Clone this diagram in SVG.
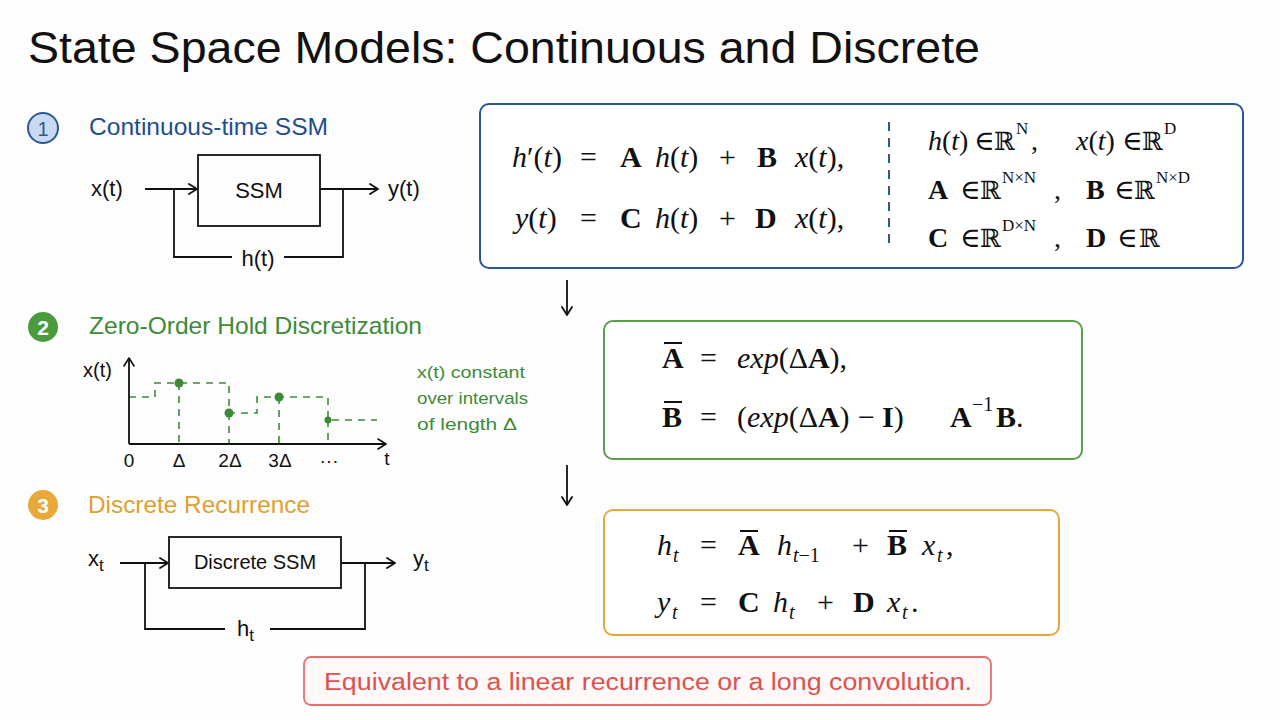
<svg xmlns="http://www.w3.org/2000/svg" width="1280" height="720" viewBox="0 0 1280 720">
<defs>
<marker id="arr" markerWidth="12" markerHeight="12" refX="10" refY="6" orient="auto" markerUnits="userSpaceOnUse">
<path d="M2,1 L10,6 L2,11" fill="none" stroke="#111" stroke-width="1.8" stroke-linecap="round" stroke-linejoin="round"/>
</marker>
<marker id="arrg" markerWidth="12" markerHeight="12" refX="10" refY="6" orient="auto" markerUnits="userSpaceOnUse">
<path d="M2,1 L10,6 L2,11" fill="none" stroke="#111" stroke-width="1.6" stroke-linecap="round" stroke-linejoin="round"/>
</marker>
</defs>
<style>
.hand{font-family:"Liberation Sans","Noto Sans",sans-serif;fill:#111}
.m{font-family:"Liberation Serif","DejaVu Serif",serif;font-size:30px;fill:#111}
.r{font-family:"Liberation Serif","DejaVu Serif",serif;font-size:28px;fill:#111}
.R{font-family:"DejaVu Serif",serif;font-size:25px}
.i{font-style:italic}
.b{font-weight:bold}
.sup{font-size:17px}
.sub{font-size:20px}
.ln{stroke:#111;stroke-width:1.8;fill:none}
.blue{fill:#1f4e8c}
.green{fill:#3d8b37}
.orange{fill:#e0a030}
.dash{stroke:#3d8b37;stroke-width:1.6;stroke-dasharray:7 6;fill:none}
.bar{stroke:#111;stroke-width:2}
</style>
<rect width="1280" height="720" fill="#fdfdfd"/>
<text class="hand" x="28" y="63" font-size="44" textLength="952" lengthAdjust="spacingAndGlyphs">State Space Models: Continuous and Discrete</text>

<!-- Section 1 -->
<g id="sec1">
<circle cx="43" cy="128" r="15" fill="#c9daf0" stroke="#2b5797" stroke-width="2"/>
<text class="hand" x="43" y="136" font-size="20" text-anchor="middle" style="fill:#2b5797">1</text>
<text class="hand blue" x="89" y="135" font-size="24" textLength="239" lengthAdjust="spacingAndGlyphs">Continuous-time SSM</text>
</g>
<g id="ssm1">
<rect x="198" y="155" width="122" height="71" fill="none" stroke="#111" stroke-width="1.8"/>
<text class="hand" x="259" y="198" font-size="22" text-anchor="middle">SSM</text>
</g>
<g id="io1">
<text class="hand" x="91" y="196" font-size="22">x(t)</text>
<text class="hand" x="388" y="196" font-size="22">y(t)</text>
<text class="hand" x="258" y="266" font-size="22" text-anchor="middle">h(t)</text>
</g>

<!-- Section 2 -->
<g id="sec2">
<circle cx="43" cy="327" r="15" fill="#4a9a3e"/>
<text class="hand" x="43" y="335" font-size="21" font-weight="bold" text-anchor="middle" style="fill:#fff">2</text>
<text class="hand green" x="89" y="334" font-size="24" textLength="333" lengthAdjust="spacingAndGlyphs">Zero-Order Hold Discretization</text>
</g>
<g id="zoh">
<text class="hand" x="83" y="377" font-size="20">x(t)</text>
<path class="dash" d="M129,397 H155 V383 H229 V413 H257 V397 H328 V420 H377"/>
<path class="dash" d="M179,383 V443 M229,413 V443 M279,397 V443 M328,420 V443"/>
<circle cx="179" cy="383" r="4.5" fill="#3d8b37"/>
<circle cx="229" cy="413" r="4.5" fill="#3d8b37"/>
<circle cx="279" cy="397" r="4.5" fill="#3d8b37"/>
<circle cx="328" cy="420" r="3.5" fill="#3d8b37"/>
<text class="hand" x="129" y="467" font-size="19" text-anchor="middle">0</text>
<text class="hand" x="179" y="467" font-size="19" text-anchor="middle">Δ</text>
<text class="hand" x="230" y="467" font-size="19" text-anchor="middle">2Δ</text>
<text class="hand" x="280" y="467" font-size="19" text-anchor="middle">3Δ</text>
<text class="hand" x="329" y="467" font-size="19" text-anchor="middle">···</text>
<text class="hand" x="387" y="465" font-size="19" text-anchor="middle">t</text>
<text class="hand green" x="417" y="378" font-size="17" textLength="108" lengthAdjust="spacingAndGlyphs">x(t) constant</text>
<text class="hand green" x="417" y="404" font-size="17" textLength="111" lengthAdjust="spacingAndGlyphs">over intervals</text>
<text class="hand green" x="417" y="430" font-size="17" textLength="100" lengthAdjust="spacingAndGlyphs">of length Δ</text>
</g>

<!-- Section 3 -->
<g id="sec3">
<circle cx="43" cy="505" r="15" fill="#e8a93a"/>
<text class="hand" x="43" y="513" font-size="21" font-weight="bold" text-anchor="middle" style="fill:#fff">3</text>
<text class="hand orange" x="88" y="513" font-size="24" textLength="222" lengthAdjust="spacingAndGlyphs">Discrete Recurrence</text>
</g>
<g id="ssm3">
<rect x="169" y="537" width="172" height="51" fill="none" stroke="#111" stroke-width="1.8"/>
<text class="hand" x="255" y="569" font-size="20" text-anchor="middle">Discrete SSM</text>
</g>
<g id="io3">
<text class="hand" x="88" y="566" font-size="22">x<tspan font-size="17" dy="5">t</tspan></text>
<text class="hand" x="413" y="566" font-size="22">y<tspan font-size="17" dy="5">t</tspan></text>
<text class="hand" x="237" y="636" font-size="22">h<tspan font-size="17" dy="5">t</tspan></text>
</g>

<!-- Connectors -->
<g id="connectors">
<line class="ln" x1="145" y1="189" x2="197" y2="189" marker-end="url(#arr)"/>
<line class="ln" x1="320" y1="189" x2="378" y2="189" marker-end="url(#arr)"/>
<path class="ln" d="M343,189 V257 H284 M232,257 H174 V189"/>
<line class="ln" x1="129" y1="444" x2="129" y2="358" marker-end="url(#arrg)"/>
<line class="ln" x1="129" y1="444" x2="386" y2="444" marker-end="url(#arrg)"/>
<line class="ln" x1="120" y1="563" x2="168" y2="563" marker-end="url(#arr)"/>
<line class="ln" x1="341" y1="563" x2="395" y2="563" marker-end="url(#arr)"/>
<path class="ln" d="M365,563 V629 H270 M225,629 H145 V563"/>
<line class="ln" x1="567" y1="280" x2="567" y2="315" marker-end="url(#arr)"/>
<line class="ln" x1="567" y1="465" x2="567" y2="505" marker-end="url(#arr)"/>
</g>

<!-- Box 1 -->
<g id="box1">
<rect x="480" y="104" width="763" height="164" rx="9" fill="#fff" stroke="#2b5797" stroke-width="2"/>
<line x1="889" y1="122" x2="889" y2="250" stroke="#2b5797" stroke-width="2" stroke-dasharray="9 7"/>
<text class="m" y="167"><tspan x="512" class="i">h</tspan><tspan>′(</tspan><tspan class="i">t</tspan><tspan>)</tspan><tspan x="580">=</tspan><tspan x="620" class="b">A</tspan><tspan x="655" class="i">h</tspan><tspan>(</tspan><tspan class="i">t</tspan><tspan>)</tspan><tspan x="719">+</tspan><tspan x="757" class="b">B</tspan><tspan x="795" class="i">x</tspan><tspan>(</tspan><tspan class="i">t</tspan><tspan>),</tspan></text>
<text class="m" y="228"><tspan x="515" class="i">y</tspan><tspan>(</tspan><tspan class="i">t</tspan><tspan>)</tspan><tspan x="580">=</tspan><tspan x="620" class="b">C</tspan><tspan x="655" class="i">h</tspan><tspan>(</tspan><tspan class="i">t</tspan><tspan>)</tspan><tspan x="719">+</tspan><tspan x="755" class="b">D</tspan><tspan x="795" class="i">x</tspan><tspan>(</tspan><tspan class="i">t</tspan><tspan>),</tspan></text>
<text class="r" y="150"><tspan x="928" class="i">h</tspan><tspan>(</tspan><tspan class="i">t</tspan><tspan>)</tspan><tspan x="974">∈</tspan><tspan x="994" class="R">ℝ</tspan><tspan x="1016" y="134" class="sup">N</tspan><tspan x="1031" y="150">,</tspan><tspan x="1076" class="i">x</tspan><tspan>(</tspan><tspan class="i">t</tspan><tspan>)</tspan><tspan x="1122">∈</tspan><tspan x="1142" class="R">ℝ</tspan><tspan x="1164" y="134" class="sup">D</tspan></text>
<text class="r" y="199"><tspan x="928" class="b">A</tspan><tspan x="960">∈</tspan><tspan x="980" class="R">ℝ</tspan><tspan x="1002" y="183" class="sup">N×N</tspan><tspan x="1054" y="199">,</tspan><tspan x="1086" class="b">B</tspan><tspan x="1114">∈</tspan><tspan x="1134" class="R">ℝ</tspan><tspan x="1156" y="183" class="sup">N×D</tspan></text>
<text class="r" y="247"><tspan x="928" class="b">C</tspan><tspan x="960">∈</tspan><tspan x="980" class="R">ℝ</tspan><tspan x="1002" y="231" class="sup">D×N</tspan><tspan x="1054" y="247">,</tspan><tspan x="1086" class="b">D</tspan><tspan x="1117">∈</tspan><tspan x="1139" class="R">ℝ</tspan></text>
</g>

<!-- Box 2 -->
<g id="box2">
<rect x="604" y="321" width="478" height="138" rx="9" fill="#fff" stroke="#5a9e4b" stroke-width="2"/>
<line class="bar" x1="664" y1="343" x2="682" y2="343"/>
<line class="bar" x1="664" y1="402" x2="682" y2="402"/>
<text class="m" y="368"><tspan x="662" class="b">A</tspan><tspan x="700">=</tspan><tspan x="737" class="i">exp</tspan><tspan>(Δ</tspan><tspan class="b">A</tspan><tspan>),</tspan></text>
<text class="m" y="427"><tspan x="662" class="b">B</tspan><tspan x="700">=</tspan><tspan x="737">(</tspan><tspan class="i">exp</tspan><tspan>(Δ</tspan><tspan class="b">A</tspan><tspan>)</tspan><tspan x="858">−</tspan><tspan x="882" class="b">I</tspan><tspan>)</tspan><tspan x="950" class="b">A</tspan><tspan x="972" y="411" class="sub">−1</tspan><tspan x="996" y="427" class="b">B</tspan><tspan>.</tspan></text>
</g>

<!-- Box 3 -->
<g id="box3">
<rect x="604" y="510" width="455" height="125" rx="9" fill="#fff" stroke="#e0a840" stroke-width="2"/>
<line class="bar" x1="740" y1="531" x2="758" y2="531"/>
<line class="bar" x1="889" y1="531" x2="907" y2="531"/>
<text class="m" y="555"><tspan x="657" class="i">h</tspan><tspan x="673" y="562" class="sub i">t</tspan><tspan x="700" y="555">=</tspan><tspan x="738" class="b">A</tspan><tspan x="777" class="i">h</tspan><tspan x="793" y="562" class="sub"><tspan class="i">t</tspan>−1</tspan><tspan x="852" y="555">+</tspan><tspan x="887" class="b">B</tspan><tspan x="922" class="i">x</tspan><tspan x="937" y="562" class="sub i">t</tspan><tspan x="946" y="555">,</tspan></text>
<text class="m" y="612"><tspan x="657" class="i">y</tspan><tspan x="672" y="619" class="sub i">t</tspan><tspan x="700" y="612">=</tspan><tspan x="738" class="b">C</tspan><tspan x="773" class="i">h</tspan><tspan x="789" y="619" class="sub i">t</tspan><tspan x="817" y="612">+</tspan><tspan x="853" class="b">D</tspan><tspan x="887" class="i">x</tspan><tspan x="902" y="619" class="sub i">t</tspan><tspan x="911" y="612">.</tspan></text>
</g>

<!-- Note -->
<g id="note">
<rect x="304" y="657" width="687" height="48" rx="7" fill="#fff8f8" stroke="#e07272" stroke-width="1.8"/>
<text class="hand" x="324" y="690" font-size="23" textLength="648" lengthAdjust="spacingAndGlyphs" style="fill:#d9534f">Equivalent to a linear recurrence or a long convolution.</text>
</g>
</svg>
